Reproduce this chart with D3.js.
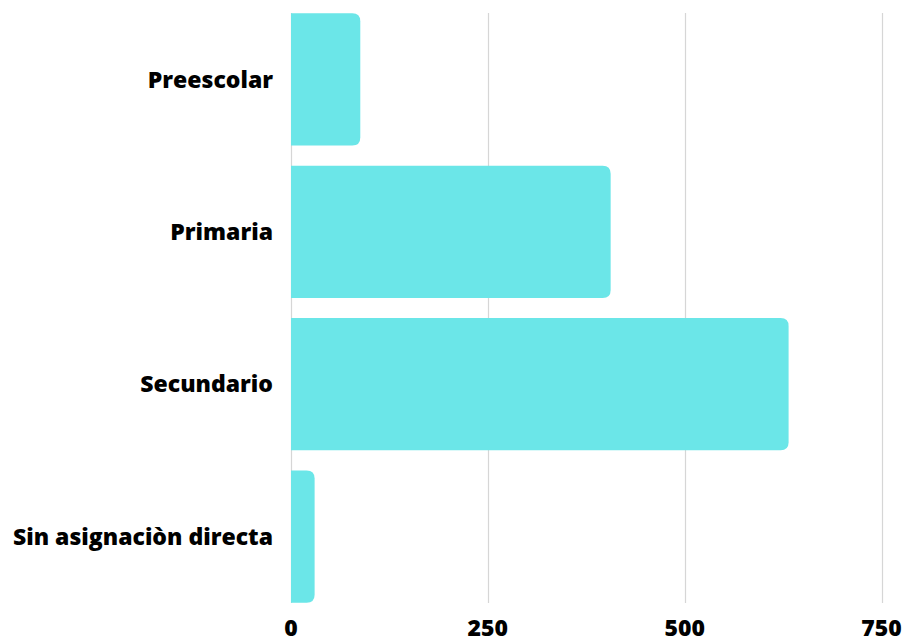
<!DOCTYPE html>
<html>
  <head>
    <meta charset="utf-8">
    <title>Niveles</title>
    <script src="https://d3js.org/d3.v7.min.js"></script>
    <style>
      body { margin: 0; background: #fff; }
      svg text { font-family: "Open Sans", sans-serif; font-weight: 800; fill: #000; }
    </style>
  </head>
  <body>
    <svg id="canvas" width="904" height="638"></svg>
    <script>
      // data
      var categories = ["Preescolar", "Primaria", "Secundario", "Sin asignaciòn directa"];
      var values = [88, 406, 632, 30];
      var ticks = [0, 250, 500, 750];

      var canvas = d3.select("#canvas");
      var x = d3.scaleLinear()
        .domain([0, 750])
        .range([291, 881.5]);
      var y = d3.scaleBand()
        .domain(categories)
        .range([13.3, 602.7])
        .paddingInner(20 / 152)
        .paddingOuter(0);

      // gridlines
      canvas.append("g")
        .selectAll("line")
          .data(ticks)
        .enter().append("line")
          .attr("x1", function(d) { return Math.round(x(d)) + 0.5; })
          .attr("x2", function(d) { return Math.round(x(d)) + 0.5; })
          .attr("y1", 13)
          .attr("y2", 603)
          .attr("stroke", "#d6d6d6")
          .attr("stroke-width", 1.2);

      // bars, square on the left, rounded on the right
      var r = 8;
      canvas.append("g")
        .selectAll("path")
          .data(values)
        .enter().append("path")
          .attr("fill", "#6be6e8")
          .attr("d", function(d, i) {
            var x0 = x(0), x1 = x(d), y0 = y(categories[i]), h = y.bandwidth();
            var rr = Math.min(r, (x1 - x0) / 2);
            return "M" + x0 + "," + y0 +
              "H" + (x1 - rr) +
              "Q" + x1 + "," + y0 + " " + x1 + "," + (y0 + rr) +
              "V" + (y0 + h - rr) +
              "Q" + x1 + "," + (y0 + h) + " " + (x1 - rr) + "," + (y0 + h) +
              "H" + x0 + "Z";
          });

      // category labels
      canvas.append("g")
        .selectAll("text")
          .data(categories)
        .enter().append("text")
          .attr("x", 273)
          .attr("y", function(d) { return y(d) + y.bandwidth() / 2; })
          .attr("dy", "0.35em")
          .attr("text-anchor", "end")
          .style("font-size", "23px")
          .text(function(d) { return d; });

      // tick labels
      canvas.append("g")
        .selectAll("text")
          .data(ticks)
        .enter().append("text")
          .attr("x", function(d) { return x(d); })
          .attr("y", 636)
          .attr("text-anchor", "middle")
          .style("font-size", "23px")
          .text(function(d) { return d; });
    </script>
  </body>
</html>
